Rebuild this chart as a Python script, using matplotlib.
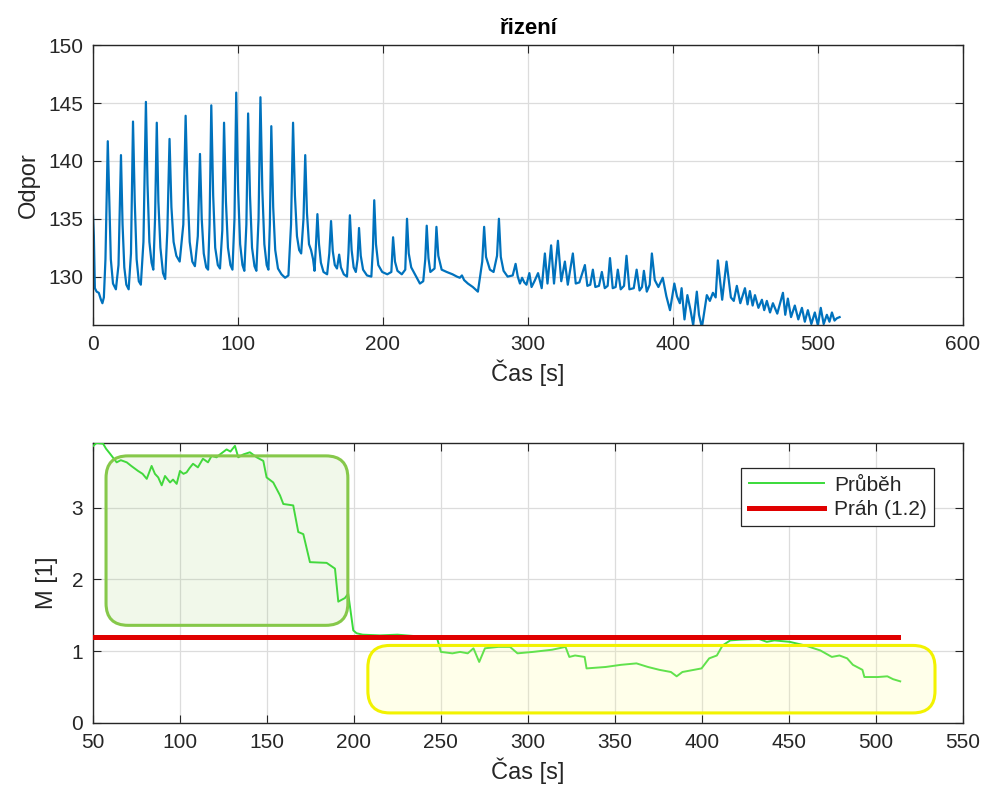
#!/usr/bin/env python

import numpy as np
import matplotlib
matplotlib.use("Agg")
import matplotlib.pyplot as plt
import matplotlib.transforms as mtransforms
from matplotlib.patches import FancyBboxPatch

# some global matplotlib settings (MATLAB-ish look)
plt.rcParams['font.family'] = ['Liberation Sans', 'DejaVu Sans']
plt.rcParams['xtick.labelsize'] = 15
plt.rcParams['ytick.labelsize'] = 15
plt.rcParams['axes.labelsize'] = 17
plt.rcParams['xtick.direction'] = 'in'
plt.rcParams['ytick.direction'] = 'in'

# ---- data ----
# top panel: resistance vs time
odpor_t = [0, 0.6, 1.3, 2.5, 4, 5.5, 6.5, 7.5, 8.6, 10.2, 11.3, 12.3, 13.8, 15.8,
           17.6, 19.3, 20.4, 21.6, 23, 24.6,
           26.2, 27.6, 28.8, 30.1, 31.6, 33,
           34.8, 36.5, 37.6, 38.9, 40.4, 41.6,
           42.8, 44, 45.1, 46.5, 48.3, 49.8,
           51.3, 52.8, 54.1, 55.6, 57.5, 59.8,
           62.3, 63.9, 65.2, 66.7, 68.5, 70.3,
           72.3, 73.8, 75.0, 76.4, 78.1, 79.4,
           80.4, 81.6, 82.9, 84.3, 86.1, 87.6,
           89.2, 90.4, 91.7, 93.1, 94.8, 96.2,
           97.6, 98.8, 100.1, 101.5, 103.1, 104.4,
           105.8, 107.0, 108.3, 109.7, 111.4, 112.7,
           114.2, 115.5, 116.8, 118.2, 119.8, 121.0,
           122.0, 123.0, 124.3, 125.7, 127.6, 130, 132.5, 134.8,
           136.6, 138.0, 139.3, 140.7, 142.2, 143.6,
           145.2, 146.4, 147.6, 149, 150.4, 151.8, 152.8, 153.7, 154.8, 155.9, 157.2, 159, 161.5,
           163, 164.2, 165.4, 166.8, 168.3, 169.8, 171, 173, 175.2,
           176.2, 177.2, 178.4, 179.8, 181.3, 182.5, 183.5, 184.7, 186.3, 189, 192,
           193.1, 194.0, 195.2, 196.8, 199.5, 203, 205.8,
           207.0, 208.3, 210, 213, 215.4, 216.6, 217.8, 219.5, 222.5, 225.5, 227.8,
           229.2, 230.2, 231.4, 232.7, 235.6, 236.9, 238.2, 240.5, 244, 248, 251, 253, 254.5, 256, 258.6, 262, 265.5,
           268.5, 269.8, 271.1, 273.8, 276.3, 278.7, 280.0, 281.3, 283.2, 286, 289.5, 291.5, 293, 294.5,
           296, 297.5, 299, 301, 302.5, 304.5, 307, 309.5, 311.7, 313.5, 316, 318, 320.7, 323, 325.5, 327.5,
           331, 333, 335.5, 339.3, 341, 343, 344.8, 346.5, 349, 351, 353, 355, 356.6, 358.5, 360.5, 362,
           364, 366.3, 368, 370, 373, 375, 377, 378.7, 380, 382, 384, 385.5, 387.5, 390, 393, 395.5,
           398, 401, 402.8, 404.8, 406, 408, 410, 412, 414, 416.5, 418, 420, 423.4, 425.5, 427.6, 429.5,
           431, 434, 437, 440, 442, 444.1, 446.5, 449.7, 451.5, 453.1, 455, 456.6, 459, 461.4, 463, 464.8,
           467, 469, 472, 475.9, 477.5, 479.3, 481.5, 484.1, 486.5, 489, 491, 493.1, 495.5, 497.9, 500,
           502, 504, 506.2, 508, 509.7, 511.5, 513.1, 515]
odpor_v = [135.3, 133.5, 129.0, 128.7, 128.6, 128.0, 127.7, 128.2, 131.5, 141.7, 136.5, 131.5, 129.4, 128.9,
           131.0, 140.5, 134.5, 130.8, 129.3, 128.9,
           132.0, 143.4, 136.5, 131.5, 129.6, 129.3,
           133.0, 145.1, 138.0, 133.0, 131.2, 130.6,
           135.0, 143.3, 136.5, 132.5, 130.3, 129.8,
           134.0, 141.9, 136.0, 133.0, 131.8, 131.3,
           134.5, 143.9, 137.5, 133.0, 131.3, 130.9,
           133.5, 140.6, 135.0, 132.0, 130.8, 130.6,
           134.5, 144.8, 137.0, 132.5, 131.0, 130.7,
           134.0, 143.3, 136.5, 132.5, 131.0, 130.6,
           135.0, 145.9, 137.5, 132.8, 131.0, 130.5,
           134.5, 144.1, 137.0, 132.5, 130.9, 130.5,
           135.0, 145.5, 137.5, 132.8, 131.0, 130.6,
           134.5, 143.0, 136.0, 132.3, 130.7, 130.2, 129.9, 130.1,
           134.5, 143.3, 137.0, 133.5, 132.3, 132.0,
           135.0, 140.5, 135.5, 132.8, 132.3, 131.5, 130.5, 132.5, 135.4, 132.8, 131.2, 130.4, 130.2,
           132.0, 134.8, 132.2, 131.0, 130.7, 131.9, 130.8, 130.2, 130.0,
           132.0, 135.3, 132.3, 130.8, 130.4, 131.5, 134.2, 131.8, 130.6, 130.1, 130.0,
           132.5, 136.6, 132.8, 131.0, 130.4, 130.2, 130.4,
           133.4, 131.3, 130.5, 130.2, 130.6, 135.0, 132.0, 130.8, 130.1, 129.4, 129.6,
           131.5, 134.4, 131.6, 130.4, 130.7, 134.3, 131.8, 130.6, 130.4, 130.2, 130.0, 129.9, 130.1, 129.7, 129.4, 129.1, 128.7,
           131.3, 134.3, 131.7, 130.6, 130.4, 131.8, 135.0, 131.7, 130.5, 130.0, 130.1, 131.1, 130.0, 129.4,
           129.9, 129.5, 129.3, 130.3, 129.1, 129.6, 130.3, 129.0, 132.0, 129.4, 132.7, 129.4, 133.1, 129.6, 131.3, 129.3,
           132.0, 129.4, 129.5, 131.0, 129.2, 129.3, 130.6, 129.1, 129.2, 130.4, 129.0, 129.2, 131.6, 129.0, 129.1, 130.6,
           128.9, 129.2, 131.8, 128.9, 129.0, 130.6, 128.8, 129.1, 130.5, 128.7, 129.3, 132.0, 129.7, 129.1, 129.9, 128.3,
           127.1, 129.4, 128.3, 127.7, 129.0, 126.3, 128.4, 127.2, 125.8, 128.7, 126.7, 125.6, 128.4, 127.9, 128.6, 128.2,
           131.4, 128.0, 131.3, 128.2, 127.9, 129.2, 127.7, 129.0, 127.6, 128.75, 127.5, 128.4, 127.3, 128.0, 127.1, 127.9,
           126.9, 127.7, 126.8, 128.6, 126.7, 128.1, 126.5, 127.5, 126.3, 127.3, 126.1, 127.1, 125.9, 126.9, 125.8,
           127.3, 125.9, 126.7, 126.1, 126.9, 126.2, 126.4, 126.5]

# bottom panel: M [1] vs time ("Průběh")
m_t = [50.2, 52, 55.8, 57.5, 59.8, 63.6, 66, 69.4, 72, 75.9, 78.5, 80.9, 83.7, 85.6, 87.5, 89.5,
       91.4, 94.3, 96, 98.1, 100, 102, 103.8, 105.5, 107.5, 110.3, 113.2, 116.1, 118.2, 121, 123,
       126.8, 129, 131.6, 133.5, 136.4, 140.2, 144.1, 147.9, 149.8, 153.6, 157.5, 159.4, 165.1,
       168, 170.9, 174.7, 184.3, 189.1, 191, 194.8, 196.7, 199.6, 201.5, 205, 215, 225, 235,
       247.8, 250, 256.6, 261, 265.4, 268.7, 272, 275.3, 283, 289.7, 294, 302.9, 313.9, 321.6,
       323.8, 327.1, 332.6, 333.7, 344.7, 353.5, 362.4, 369, 375.6, 382.2, 385.5, 388.8, 395.4,
       399.8, 404.2, 408.6, 411.9, 416.3, 421.8, 432.8, 437.3, 441.7, 450.5, 459.3, 468.1, 474.7,
       479.1, 483.5, 486.8, 492.3, 493.4, 501.1, 506.6, 509.9, 514]
m_v = [3.86, 3.9, 3.89, 3.82, 3.75, 3.63, 3.66, 3.63, 3.58, 3.51, 3.47, 3.40, 3.58, 3.47, 3.42, 3.31,
       3.44, 3.35, 3.39, 3.33, 3.51, 3.47, 3.49, 3.55, 3.61, 3.56, 3.68, 3.63, 3.72, 3.70, 3.74,
       3.81, 3.78, 3.86, 3.70, 3.74, 3.77, 3.70, 3.65, 3.42, 3.35, 3.17, 3.05, 3.03,
       2.66, 2.63, 2.24, 2.23, 2.15, 1.69, 1.74, 1.80, 1.29, 1.25, 1.23, 1.22, 1.23, 1.21,
       1.18, 0.99, 0.97, 0.99, 0.97, 1.04, 0.85, 1.04, 1.06, 1.06, 0.97, 0.99, 1.02, 1.06,
       0.92, 0.94, 0.92, 0.76, 0.78, 0.81, 0.83, 0.78, 0.74, 0.71, 0.65, 0.71, 0.74,
       0.76, 0.90, 0.94, 1.08, 1.15, 1.16, 1.17, 1.13, 1.15, 1.13, 1.08, 1.01, 0.92,
       0.94, 0.90, 0.81, 0.74, 0.64, 0.64, 0.65, 0.61, 0.58]

# threshold ("Práh (1.2)")
prah_t = [50, 513]
prah_v = [1.2, 1.2]

# highlight boxes in bottom panel (data coords: t0, t1, v0, v1)
greenBox = (57.5, 196.5, 1.36, 3.72)
yellowBox = (208, 534, 0.14, 1.08)

txtColor = '#262626'


def styleAxes(ax):
    """MATLAB-like axes: box, inward ticks on all sides, light grid"""
    ax.grid(True, color='#dcdcdc', lw=0.9)
    ax.set_axisbelow(True)
    ax.tick_params(top=True, right=True, length=6, width=0.8, colors='#262626', pad=7)
    for s in ax.spines.values():
        s.set_color('#262626')
        s.set_linewidth(1.0)


def drawRoundBox(fig, ax, box, edge, face):
    """Rounded rectangle given in data coords, drawn in pixels so corners stay round"""
    (x0, x1, y0, y1) = box
    p0 = ax.transData.transform((x0, y0))
    p1 = ax.transData.transform((x1, y1))
    patch = FancyBboxPatch((p0[0], p0[1]), p1[0] - p0[0], p1[1] - p0[1],
                           boxstyle='round,pad=0,rounding_size=22',
                           transform=mtransforms.IdentityTransform(),
                           ec=edge, fc=face, lw=2.2, zorder=2)
    fig.add_artist(patch)


fig = plt.figure(figsize=(9.84, 8.01), dpi=100)

# top panel
ax1 = fig.add_axes([0.0945, 0.594, 0.884, 0.3496])
ax1.plot(odpor_t, odpor_v, color='#0072BD', lw=1.6, solid_joinstyle='round')
ax1.set_xlim(0, 600)
ax1.set_ylim(125.8, 150)
ax1.set_yticks([130, 135, 140, 145, 150])
ax1.set_xticks(np.arange(0, 601, 100))
ax1.set_xlabel('Čas [s]', color=txtColor, labelpad=4)
ax1.set_ylabel('Odpor', color=txtColor, labelpad=6)
ax1.set_title('řizení', fontsize=16, fontweight='bold', pad=8)
styleAxes(ax1)

# bottom panel
ax2 = fig.add_axes([0.0945, 0.0974, 0.884, 0.3496])
ax2.set_xlim(50, 550)
ax2.set_ylim(0, 3.9)
ax2.set_xticks(np.arange(50, 551, 50))
ax2.set_yticks([0, 1, 2, 3])
ax2.plot(m_t, m_v, color='#3ADB3A', lw=1.4, label='Průběh', zorder=4)
ax2.plot(prah_t, prah_v, color='#E00000', lw=3.6, label='Práh (1.2)', zorder=4)
ax2.set_xlabel('Čas [s]', color=txtColor, labelpad=4)
ax2.set_ylabel('M [1]', color=txtColor, labelpad=10)
styleAxes(ax2)

leg = ax2.legend(loc='upper right', bbox_to_anchor=(0.979, 0.946), fontsize=15,
                 handlelength=3.6, fancybox=False, framealpha=1, edgecolor='#262626',
                 borderpad=0.35, labelspacing=0.25, handletextpad=0.5)
leg.get_frame().set_linewidth(0.9)
for t in leg.get_texts():
    t.set_color(txtColor)

drawRoundBox(fig, ax2, greenBox, '#86C84A', (0.55, 0.78, 0.35, 0.12))
drawRoundBox(fig, ax2, yellowBox, '#F2F200', (1.0, 1.0, 0.6, 0.2))

fig.savefig('out.png', dpi=100)
